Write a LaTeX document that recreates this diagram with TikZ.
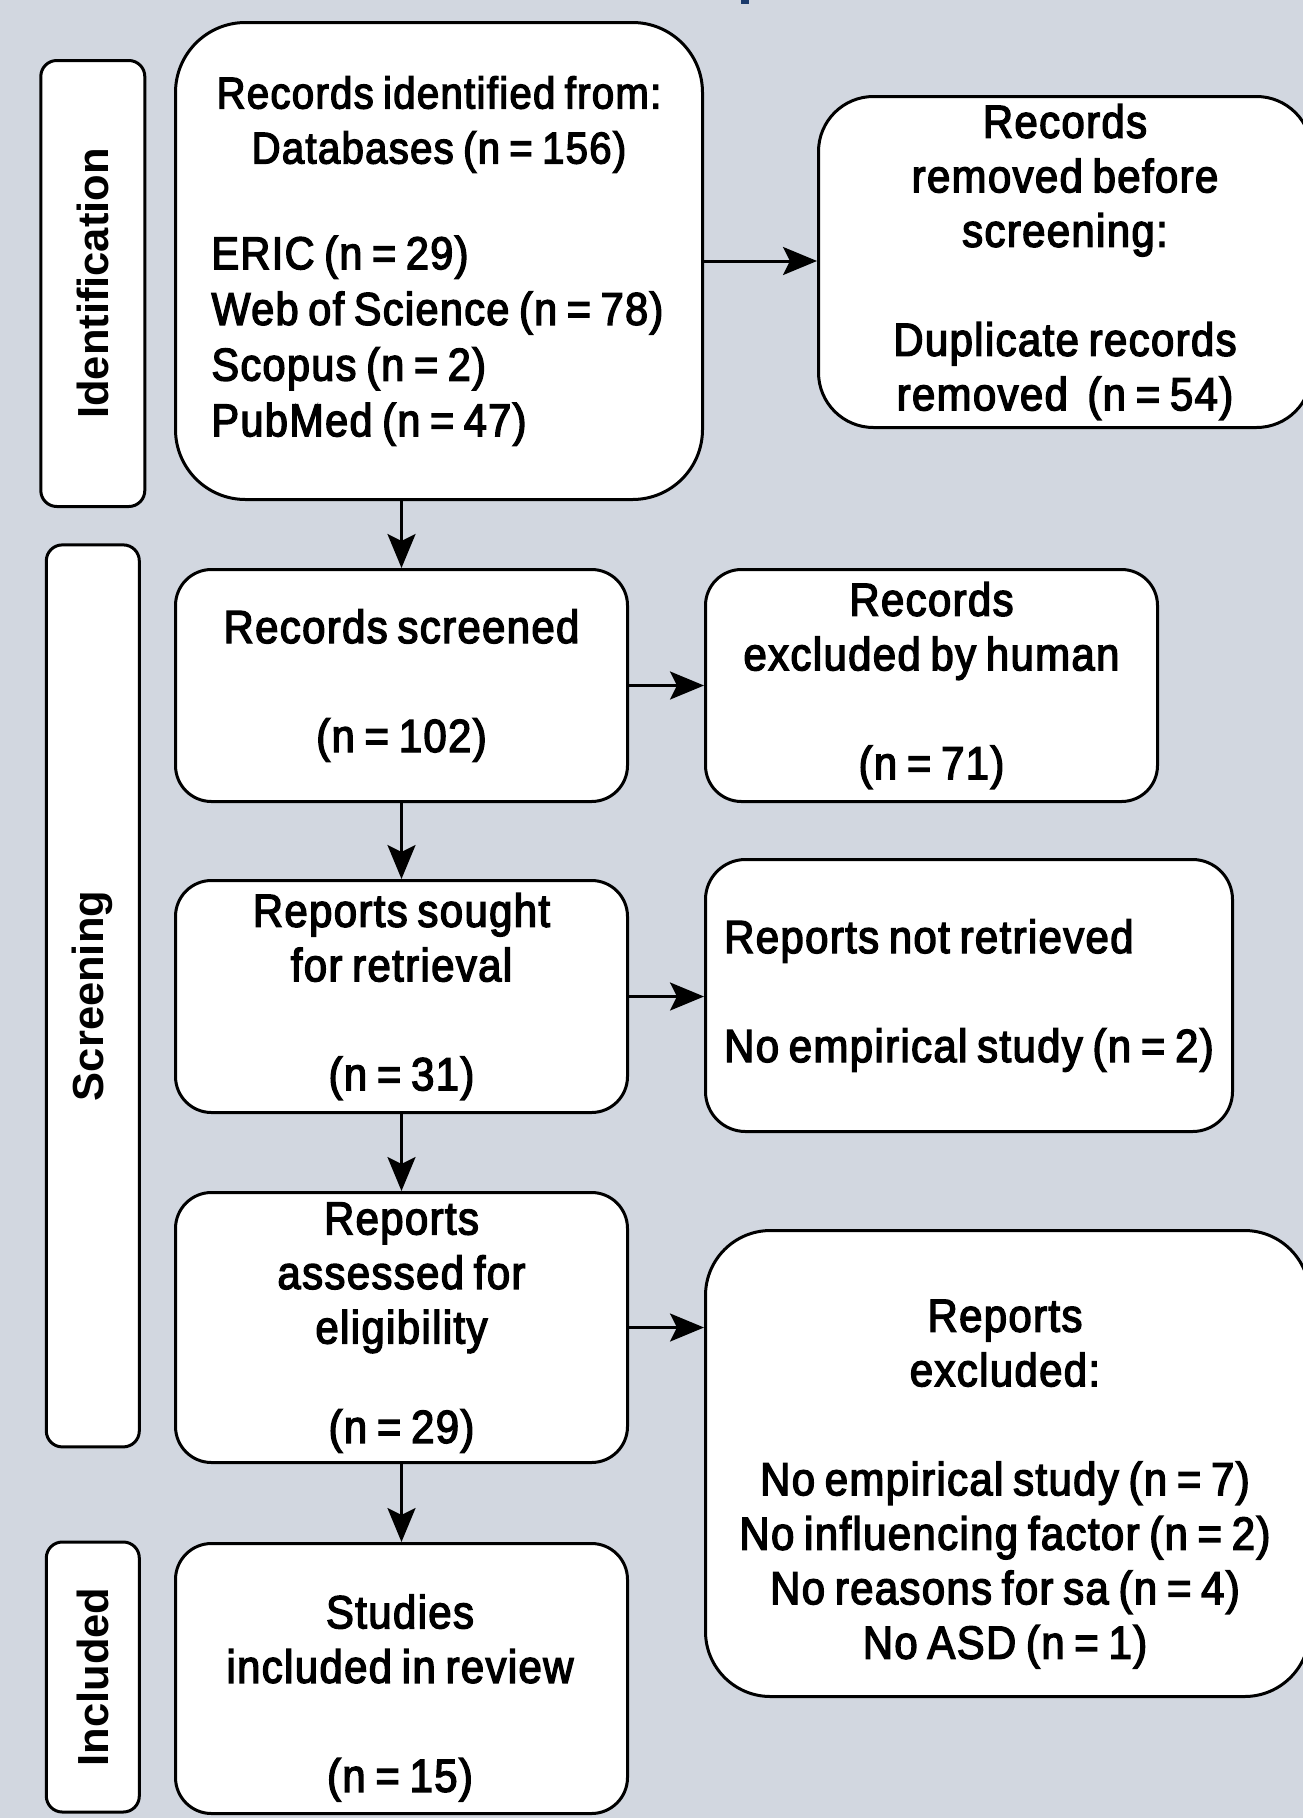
\documentclass[tikz,border=0pt]{standalone}
\usepackage{fontspec}
\setmainfont{Liberation Sans}[FakeBold=3, FakeStretch=0.9, LetterSpace=3, WordSpace=0.75]
\newfontfamily\labfamily{Liberation Sans}
\usetikzlibrary{arrows.meta}
\definecolor{bg}{HTML}{D2D7E0}
\definecolor{navy}{HTML}{1B3A6B}
\newcommand\bodyfont{\fontsize{46.5}{54.5}\selectfont}
\newcommand\headfont{\fontsize{44.5}{55}\selectfont}
\newcommand\listfont{\fontsize{46}{55.7}\selectfont}
\newcommand\labfont{\labfamily\bfseries\fontsize{43.5}{50}\selectfont}
\begin{document}
\begin{tikzpicture}[x=1pt,y=-1pt,
  every node/.style={inner sep=0pt},
  box/.style={draw=black, line width=3pt, fill=white, rounded corners=36pt, anchor=north west, align=center, font=\bodyfont},
  txt/.style={align=center, font=\bodyfont},
  lab/.style={draw=black, line width=3pt, fill=white, rounded corners=16pt, rotate=90, font=\labfont},
  arr/.style={line width=3pt, -{Stealth[length=34pt,width=28pt,inset=7pt]}}]
\fill[bg] (0,0) rectangle (1303,1818);
\useasboundingbox (0,0) rectangle (1303,1818);
\fill[navy] (741,0) rectangle (749,4);

% phase labels
\node[lab, minimum width=446pt, minimum height=104pt] (lid) at (92.8,283.5) {Identification};
\node[lab, minimum width=902pt, minimum height=93pt] (lsc) at (92.8,995.9) {Screening};
\node[lab, minimum width=270pt, minimum height=93pt] (lin) at (92.8,1677) {Included};

% boxes
\node[box, rounded corners=70pt, minimum width=527pt, minimum height=477pt, text width=455pt, align=left] (ident) at (174,21)
  {\spaceskip=0pt\xspaceskip=0pt{\headfont\centering Records identified from:\\Databases (n = 156)\par}\vspace{50pt}{\listfont ERIC (n = 29)\\Web of Science (n = 78)\\Scopus (n = 2)\\PubMed (n = 47)\par}};
\node[box, rounded corners=55pt, minimum width=493pt, minimum height=331pt] (rem) at (817,95)
  {Records\\removed before\\screening:\\[54.5pt]Duplicate records\\removed\ \ (n = 54)};
\node[box, minimum width=452pt, minimum height=232pt] (scr) at (174,568)
  {Records screened\\[54.5pt](n = 102)};
\node[box, minimum width=452pt, minimum height=232pt] (hum) at (704,568)
  {Records\\excluded by human\\[54.5pt](n = 71)};
\node[box, minimum width=452pt, minimum height=232pt] (sou) at (174,879)
  {Reports sought\\for retrieval\\[54.5pt](n = 31)};
\node[box, rounded corners=40pt, minimum width=527pt, minimum height=272pt, align=left] (ret) at (704,858)
  {Reports not retrieved\\[54.5pt]No empirical study (n = 2)};
\node[box, minimum width=452pt, minimum height=270pt] (ass) at (174,1191)
  {Reports\\assessed for\\eligibility\\[45pt](n = 29)};
\node[box, rounded corners=65pt, minimum width=604pt, minimum height=466pt] (exc) at (704,1229) {};
\node[txt] (excT) at (1005,1484)
  {Reports\\excluded:\\[54.5pt]No empirical study (n = 7)\\No influencing factor (n = 2)\\No reasons for sa (n = 4)\\No ASD (n = 1)};
\node[box, minimum width=452pt, minimum height=270pt] (stu) at (174,1542) {};
\node[txt] (stuT) at (400,1698)
  {Studies\\included in review\\[54.5pt](n = 15)};

% connectors
\draw[arr] (ident.east) -- (ident.east -| rem.west);
\draw[arr] (ident.south -| scr.north) -- (scr.north);
\draw[arr] (scr.east) -- (scr.east -| hum.west);
\draw[arr] (scr.south) -- (sou.north);
\draw[arr] (sou.east) -- (sou.east -| ret.west);
\draw[arr] (sou.south) -- (ass.north);
\draw[arr] (ass.east) -- (ass.east -| exc.west);
\draw[arr] (ass.south) -- (stu.north);
\end{tikzpicture}
\end{document}
